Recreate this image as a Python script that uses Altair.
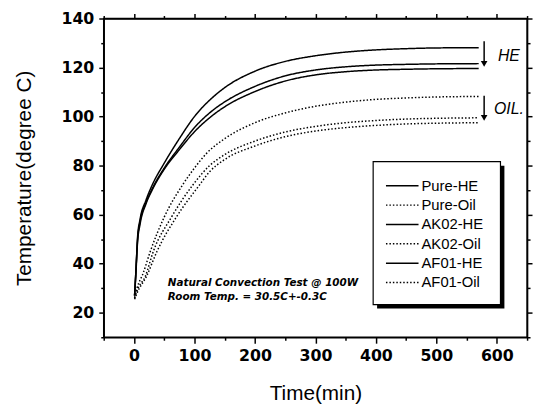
import altair as alt
import pandas as pd

# ---- data ----
series_names = ["Pure-HE", "Pure-Oil", "AK02-HE", "AK02-Oil", "AF01-HE", "AF01-Oil"]

he_time = [1, 3, 6, 10, 20, 30, 50, 75, 100, 130, 150, 200, 250, 300, 350, 400, 450, 500, 570]
pure_he = [27, 36, 51, 58, 66, 72, 81, 91, 100, 107.8, 111.8, 118.5, 122.5, 124.8, 126.3, 127.2, 127.7, 128, 128.1]
ak02_he = [27, 36, 50, 57, 65, 70.5, 79, 87.5, 95.5, 102.5, 106, 112.3, 116.6, 119, 120.3, 121, 121.3, 121.5, 121.6]
af01_he = [27, 35, 49, 56, 64.5, 70, 78.5, 86.5, 93.8, 100.5, 104, 110.2, 114.5, 117, 118.3, 119, 119.3, 119.5, 119.6]

pure_oil_time = [1, 5, 15, 27, 50, 80, 100, 120, 150, 200, 250, 300, 350, 400, 450, 500, 570]
pure_oil = [26, 30, 36, 45, 59, 72, 79, 85, 91, 97.5, 101.5, 104.2, 105.9, 107, 107.6, 108, 108.2]
ak02_oil_time = [1, 5, 19, 32, 62, 97, 125, 150, 200, 250, 300, 350, 400, 450, 500, 570]
ak02_oil = [26, 29, 35, 45, 59, 72, 80, 84.5, 90, 93.7, 96, 97.5, 98.4, 99, 99.3, 99.5]
af01_oil_time = [1, 5, 21, 38, 70, 108, 125, 150, 200, 250, 300, 350, 400, 450, 500, 570]
af01_oil = [25.5, 28, 35, 45, 59, 72, 77.5, 82.5, 88, 91.8, 94.1, 95.5, 96.4, 97, 97.3, 97.5]

x_ticks = list(range(-50, 651, 50))
y_ticks = list(range(10, 141, 10))

rows = []
for name, ts, vs in [
    ("Pure-HE", he_time, pure_he),
    ("Pure-Oil", pure_oil_time, pure_oil),
    ("AK02-HE", he_time, ak02_he),
    ("AK02-Oil", ak02_oil_time, ak02_oil),
    ("AF01-HE", he_time, af01_he),
    ("AF01-Oil", af01_oil_time, af01_oil),
]:
    for t, v in zip(ts, vs):
        rows.append({"series": name, "time": t, "temp": v})
df = pd.DataFrame(rows)

xscale = alt.Scale(domain=[-50, 650], nice=False, zero=False)
yscale = alt.Scale(domain=[10, 140], nice=False, zero=False)

dash_range = [[1, 0], [1.5, 2], [1, 0], [1.5, 2], [1, 0], [1.5, 2]]

tick_font = "DejaVu Sans"
title_font = "Liberation Sans"

x_axis = alt.Axis(
    values=x_ticks,
    labelExpr="datum.value % 100 == 0 ? datum.label : ''",
    tickSize={"condition": {"test": "datum.value % 100 == 0", "value": 6}, "value": 3},
    labelFont=tick_font, labelFontWeight="bold", labelFontSize=16, labelColor="black",
    titleFont=title_font, titleFontSize=21, titleFontWeight="normal", titleColor="black",
    title="Time(min)", grid=False, domainColor="black", tickColor="black",
    domainWidth=1.5, tickWidth=1.5, labelPadding=5, titlePadding=19, labelFlush=False,
)
y_axis = alt.Axis(
    values=y_ticks,
    labelExpr="datum.value % 20 == 0 ? datum.label : ''",
    tickSize={"condition": {"test": "datum.value % 20 == 0", "value": 5}, "value": 3},
    labelFont=tick_font, labelFontWeight="bold", labelFontSize=16, labelColor="black",
    titleFont=title_font, titleFontSize=21, titleFontWeight="normal", titleColor="black",
    title="Temperature(degree C)", grid=False, domainColor="black", tickColor="black",
    domainWidth=1.5, tickWidth=1.5, labelPadding=5, titlePadding=27, labelFlush=False,
)

legend = alt.Legend(
    title=None, orient="none", legendX=285, legendY=162,
    symbolType="M-2.75,0H2.75", symbolSize=144, symbolStrokeWidth=1.5,
    symbolOffset=10, labelOffset=12,
    labelFont=title_font, labelFontSize=15, labelColor="black",
    padding=0, rowPadding=3.6,
)

lines = alt.Chart(df).mark_line(strokeWidth=1.5, interpolate="monotone").encode(
    x=alt.X("time:Q", scale=xscale, axis=x_axis),
    y=alt.Y("temp:Q", scale=yscale, axis=y_axis),
    color=alt.Color("series:N", scale=alt.Scale(domain=series_names, range=["black"] * 6),
                    sort=series_names, legend=legend),
    strokeDash=alt.StrokeDash("series:N", scale=alt.Scale(domain=series_names, range=dash_range),
                              sort=series_names, legend=legend),
)

# legend frame and its drop shadow
shadow_df = pd.DataFrame([{"x": 402, "x2": 612.5, "y": 80.0, "y2": 21.7}])
shadow = alt.Chart(shadow_df).mark_rect(color="black").encode(
    x=alt.X("x:Q", scale=xscale, axis=None), x2="x2:Q",
    y=alt.Y("y:Q", scale=yscale, axis=None), y2="y2:Q",
)
frame_df = pd.DataFrame([{"x": 395.5, "x2": 606, "y": 81.6, "y2": 23.3}])
frame = alt.Chart(frame_df).mark_rect(fill="white", stroke="black", strokeWidth=1.2).encode(
    x=alt.X("x:Q", scale=xscale, axis=None), x2="x2:Q",
    y=alt.Y("y:Q", scale=yscale, axis=None), y2="y2:Q",
)

# arrows
arrow_df = pd.DataFrame([
    {"x": 579, "y": 130.7, "y2": 121.5},
    {"x": 579, "y": 108.5, "y2": 99.5},
])
arrow_rules = alt.Chart(arrow_df).mark_rule(color="black", strokeWidth=1.5).encode(
    x=alt.X("x:Q", scale=xscale, axis=None),
    y=alt.Y("y:Q", scale=yscale, axis=None), y2="y2:Q",
)
arrow_heads = alt.Chart(arrow_df).mark_point(shape="triangle-down", filled=True, color="black",
                                             size=45, opacity=1).encode(
    x=alt.X("x:Q", scale=xscale, axis=None),
    y=alt.Y("y2:Q", scale=yscale, axis=None),
)

label_df = pd.DataFrame([
    {"x": 620, "y": 124.6, "text": "HE"},
    {"x": 620, "y": 103.0, "text": "OIL."},
])
labels = alt.Chart(label_df).mark_text(font=title_font, fontStyle="italic", fontSize=16,
                                        color="black").encode(
    x=alt.X("x:Q", scale=xscale, axis=None),
    y=alt.Y("y:Q", scale=yscale, axis=None),
    text="text:N",
)

note_df = pd.DataFrame([
    {"x": 56, "y": 32.2, "text": "Natural Convection Test @ 100W"},
    {"x": 56, "y": 26.5, "text": "Room Temp. = 30.5C+-0.3C"},
])
notes = alt.Chart(note_df).mark_text(font="DejaVu Sans", fontStyle="italic", fontWeight="bold",
                                      fontSize=10.5, align="left", color="black").encode(
    x=alt.X("x:Q", scale=xscale, axis=None),
    y=alt.Y("y:Q", scale=yscale, axis=None),
    text="text:N",
)

# mirror axes (top / right) with ticks only
mirror_df = pd.DataFrame([{"time": 0, "temp": 20}])
mirror = alt.Chart(mirror_df).mark_point(opacity=0).encode(
    x=alt.X("time:Q", scale=xscale, axis=alt.Axis(
        orient="top", values=x_ticks, labels=False, title=None, grid=False,
        tickSize={"condition": {"test": "datum.value % 100 == 0", "value": 5}, "value": 3},
        domainColor="black", tickColor="black", domainWidth=1.5, tickWidth=1.5)),
    y=alt.Y("temp:Q", scale=yscale, axis=alt.Axis(
        orient="right", values=y_ticks, labels=False, title=None, grid=False,
        tickSize={"condition": {"test": "datum.value % 20 == 0", "value": 5}, "value": 3},
        domainColor="black", tickColor="black", domainWidth=1.5, tickWidth=1.5)),
)

chart = alt.layer(lines, mirror, shadow, frame, arrow_rules, arrow_heads, labels, notes).resolve_axis(
    x="independent", y="independent"
).properties(
    width=429, height=323,
    padding={"left": 5, "top": 0, "right": 0, "bottom": 0},
    background="white",
).configure_view(stroke="black", strokeWidth=1.5)

chart.save("out.html", embed_options={"renderer": "svg", "actions": False})
